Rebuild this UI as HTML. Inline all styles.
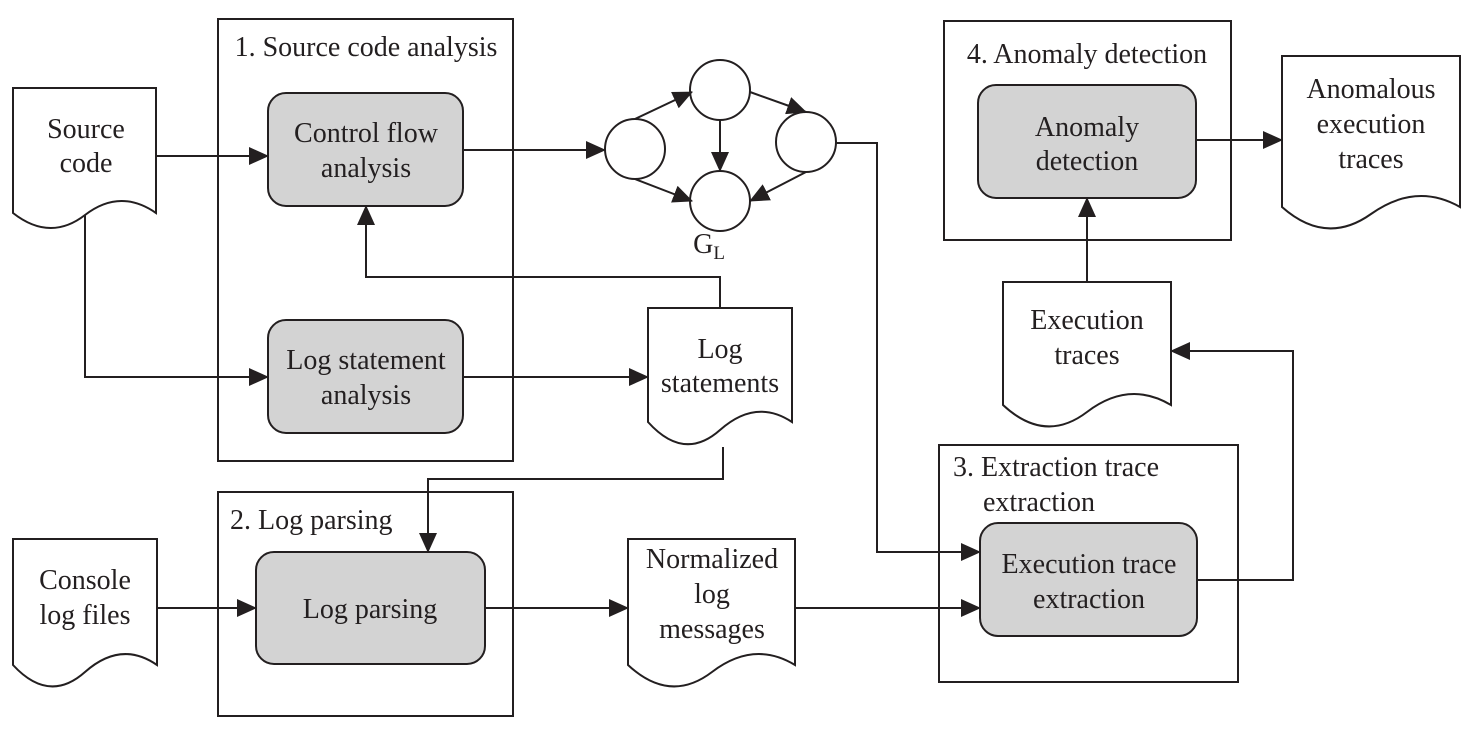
<!DOCTYPE html>
<html><head><meta charset="utf-8"><style>
html,body{margin:0;padding:0;background:#fff}
svg{display:block}
text{font-family:"Liberation Serif","Times New Roman",serif;fill:#231f20}
</style></head><body>
<svg width="1471" height="729" viewBox="0 0 1471 729" xmlns="http://www.w3.org/2000/svg">
<defs>
<marker id="a" markerWidth="20" markerHeight="18" refX="19" refY="9" orient="auto" markerUnits="userSpaceOnUse">
<path d="M0,0 L20,9 L0,18 Z" fill="#231f20"/>
</marker>
</defs>
<g stroke="#231f20" stroke-width="2" fill="none">
<rect x="218" y="19" width="295" height="442"/>
<rect x="218" y="492" width="295" height="224"/>
<rect x="939" y="445" width="299" height="237"/>
<rect x="944" y="21" width="287" height="219"/>
</g>
<g stroke="#231f20" stroke-width="2" fill="#d3d3d3">
<rect x="268" y="93" width="195" height="113" rx="18"/>
<rect x="268" y="320" width="195" height="113" rx="18"/>
<rect x="256" y="552" width="229" height="112" rx="18"/>
<rect x="980" y="523" width="217" height="113" rx="18"/>
<rect x="978" y="85" width="218" height="113" rx="18"/>
</g>
<g stroke="#231f20" stroke-width="2" fill="#fff">
<path d="M13,88 H156 V213 Q120,188 85,215 T13,213 Z"/>
<path d="M648,308 H792 V422 Q756,398 720,430 T648,422 Z"/>
<path d="M13,539 H157 V665 Q121,640 85,672 T13,665 Z"/>
<path d="M628,539 H795 V665 Q754,640 712,672 T628,665 Z"/>
<path d="M1003,282 H1171 V405 Q1129,380 1087,412 T1003,405 Z"/>
<path d="M1282,56 H1460 V207 Q1416,182 1371,214 T1282,207 Z"/>
</g>
<g stroke="#231f20" stroke-width="2" fill="#fff">
<circle cx="635" cy="149" r="30"/>
<circle cx="720" cy="90" r="30"/>
<circle cx="806" cy="142" r="30"/>
<circle cx="720" cy="201" r="30"/>
</g>
<g stroke="#231f20" stroke-width="2" fill="none" marker-end="url(#a)">
<path d="M156,156 H268"/>
<path d="M85,215 V377 H268"/>
<path d="M463,150 H605"/>
<path d="M635,119 L692,92"/>
<path d="M635,179 L692,201"/>
<path d="M720,120 V171"/>
<path d="M750,92 L806,112"/>
<path d="M806,172 L750,201"/>
<path d="M720,308 V277 H366 V206"/>
<path d="M463,377 H648"/>
<path d="M836,143 H877 V552 H980"/>
<path d="M723,447 V479 H428 V552"/>
<path d="M157,608 H256"/>
<path d="M485,608 H628"/>
<path d="M795,608 H980"/>
<path d="M1197,580 H1293 V351 H1171"/>
<path d="M1087,282 V198"/>
<path d="M1196,140 H1282"/>
</g>
<g font-size="28" text-anchor="middle">
<text x="366" y="56">1. Source code analysis</text>
<text x="1087" y="63">4. Anomaly detection</text>
<text x="86" y="138">Source</text><text x="86" y="172">code</text>
<text x="366" y="142">Control flow</text><text x="366" y="177">analysis</text>
<text x="366" y="369">Log statement</text><text x="366" y="404">analysis</text>
<text x="720" y="358">Log</text><text x="720" y="392">statements</text>
<text x="709" y="253">G<tspan font-size="19" dy="6">L</tspan></text>
<text x="1087" y="136">Anomaly</text><text x="1087" y="170">detection</text>
<text x="1371" y="98">Anomalous</text><text x="1371" y="133">execution</text><text x="1371" y="168">traces</text>
<text x="1087" y="329">Execution</text><text x="1087" y="364">traces</text>
<text x="85" y="589">Console</text><text x="85" y="624">log files</text>
<text x="370" y="618">Log parsing</text>
<text x="712" y="568">Normalized</text><text x="712" y="603">log</text><text x="712" y="638">messages</text>
<text x="1089" y="573">Execution trace</text><text x="1089" y="608">extraction</text>
</g>
<g font-size="28">
<text x="230" y="529">2. Log parsing</text>
<text x="953" y="476">3. Extraction trace</text>
<text x="983" y="511">extraction</text>
</g>
</svg>
</body></html>
